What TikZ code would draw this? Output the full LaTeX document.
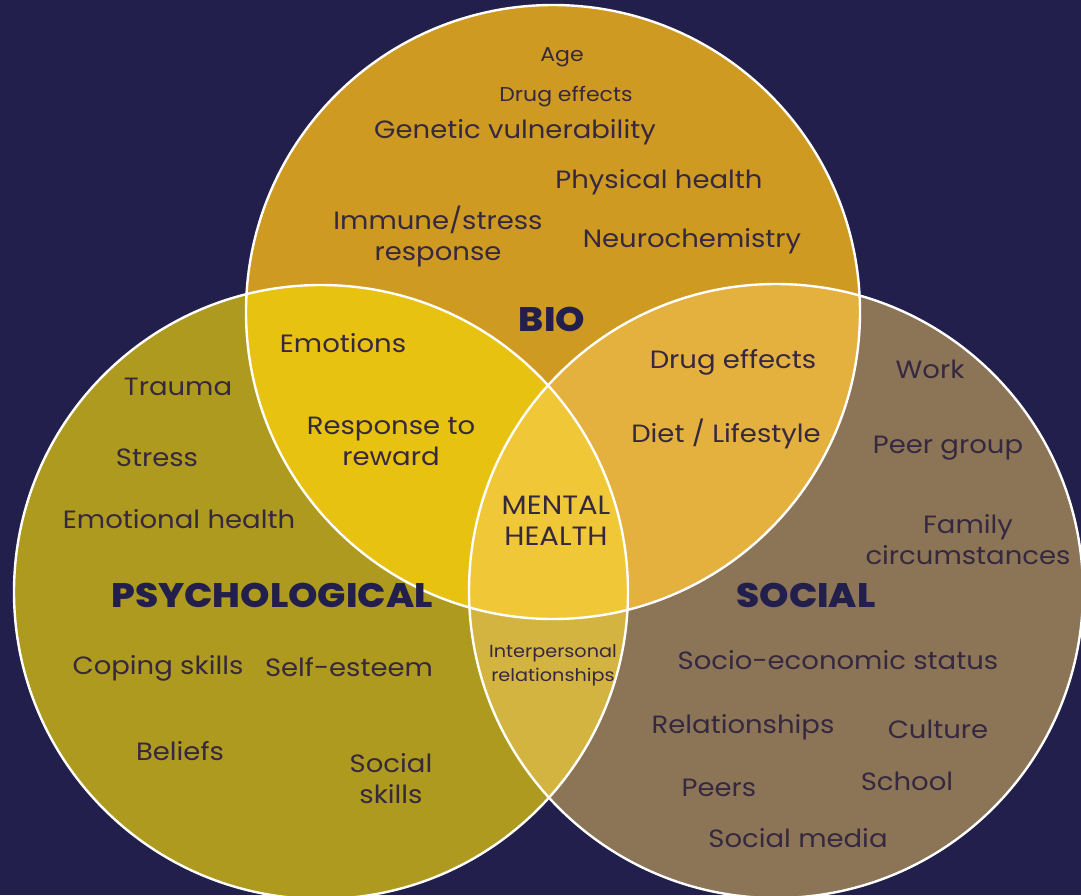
\documentclass[tikz,border=0pt]{standalone}
\usepackage{fontspec}
\setmainfont{Poppins}[FakeStretch=1.1,BoldFont={Poppins ExtraBold}]
\begin{document}
\definecolor{navy}{HTML}{231F4C}
\definecolor{bioC}{HTML}{CF9A22}
\definecolor{psyC}{HTML}{AE9A1E}
\definecolor{socC}{HTML}{8B7556}
\definecolor{bpC}{HTML}{E8C210}
\definecolor{bsC}{HTML}{E4B03E}
\definecolor{psC}{HTML}{D3B441}
\definecolor{allC}{HTML}{F0C736}
\definecolor{inkC}{HTML}{36283F}
\begin{tikzpicture}[x=1pt,y=-1pt,
  item/.style={text=inkC,align=center,inner sep=0pt,yshift=-2pt,font=\fontsize{25}{31}\selectfont},
  small/.style={item,font=\fontsize{20}{24}\selectfont},
  tiny/.style={item,font=\fontsize{17.5}{24}\selectfont},
  core/.style={item,font=\fontsize{26.5}{31}\selectfont},
  head/.style={text=navy,inner sep=0pt,yshift=-1pt,font=\bfseries\fontsize{34}{38}\selectfont},
  ring/.style={draw=white,line width=2.4pt}]
\useasboundingbox (0,0) rectangle (1081,895);
\fill[navy] (0,0) rectangle (1081,895);
\clip (0,0) rectangle (1081,895);
% circle centres
\coordinate (B) at (553,312);
\coordinate (P) at (321,592);
\coordinate (S) at (776,591);
\def\R{307pt}
% single regions
\fill[bioC] (B) circle[radius=\R];
\fill[psyC] (P) circle[radius=\R];
\fill[socC] (S) circle[radius=\R];
% pairwise overlaps
\begin{scope}
  \clip (B) circle[radius=\R];
  \fill[bpC] (P) circle[radius=\R];
\end{scope}
\begin{scope}
  \clip (B) circle[radius=\R];
  \fill[bsC] (S) circle[radius=\R];
\end{scope}
\begin{scope}
  \clip (P) circle[radius=\R];
  \fill[psC] (S) circle[radius=\R];
\end{scope}
% triple overlap
\begin{scope}
  \clip (B) circle[radius=\R];
  \clip (P) circle[radius=\R];
  \fill[allC] (S) circle[radius=\R];
\end{scope}
% outlines
\draw[ring] (B) circle[radius=\R];
\draw[ring] (P) circle[radius=\R];
\draw[ring] (S) circle[radius=\R];
% BIO
\node[small] (age) at (562,55) {Age};
\node[small] (drug1) at (566,95) {Drug effects};
\node[item] (gen) at (515,130) {Genetic vulnerability};
\node[item] (phys) at (659,180) {Physical health};
\node[item] (imm) at (438,234) {Immune/stress\\response};
\node[item] (neuro) at (692,239) {Neurochemistry};
\node[head] (bio) at (552,318) {BIO};
% BIO + PSYCHOLOGICAL
\node[item] (emo) at (343,341) {Emotions};
\node[item] (resp) at (391,439) {Response to\\reward};
% BIO + SOCIAL
\node[item] (drug2) at (733,360) {Drug effects};
\node[item] (diet) at (726,432) {Diet / Lifestyle};
% centre
\node[core] (mh) at (556,519) {MENTAL\\HEALTH};
% PSYCHOLOGICAL
\node[item] (trauma) at (178,385) {Trauma};
\node[item] (stress) at (157,456) {Stress};
\node[item] (emoh) at (179,517) {Emotional health};
\node[head] (psy) at (272,594) {PSYCHOLOGICAL};
\node[item] (cope) at (158,666) {Coping skills};
\node[item] (self) at (349,665) {Self-esteem};
\node[item] (bel) at (180,749) {Beliefs};
\node[item] (socsk) at (391,777) {Social\\skills};
% PSYCHOLOGICAL + SOCIAL
\node[tiny] (inter) at (553,663) {Interpersonal\\relationships};
% SOCIAL
\node[item] (work) at (930,367) {Work};
\node[item] (peerg) at (948,446) {Peer group};
\node[item] (fam) at (968,538) {Family\\circumstances};
\node[head] (soc) at (806,594) {SOCIAL};
\node[item] (ses) at (838,658) {Socio-economic status};
\node[item] (rel) at (743,725) {Relationships};
\node[item] (cult) at (938,727) {Culture};
\node[item] (peers) at (719,786) {Peers};
\node[item] (school) at (907,779) {School};
\node[item] (media) at (798,836) {Social media};
\end{tikzpicture}
\end{document}
